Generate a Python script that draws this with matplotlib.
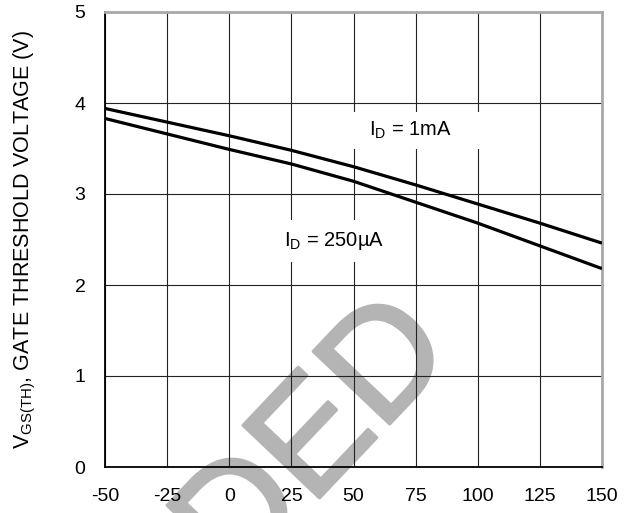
import matplotlib
matplotlib.use("Agg")
import matplotlib.pyplot as plt
import matplotlib.patheffects as pe

plt.rcParams['font.family'] = ['Liberation Sans', 'DejaVu Sans']
plt.rcParams['mathtext.fontset'] = 'custom'
plt.rcParams['mathtext.rm'] = 'Liberation Sans'
plt.rcParams['mathtext.default'] = 'regular'
plt.rcParams['axes.unicode_minus'] = False

# Data
temps = [-50, -25, 0, 25, 50, 75, 100, 125, 150]
vth_1mA = [3.94, 3.79, 3.64, 3.48, 3.30, 3.10, 2.89, 2.68, 2.46]
vth_250uA = [3.83, 3.66, 3.49, 3.33, 3.14, 2.91, 2.68, 2.43, 2.18]
x_ticks = [-50, -25, 0, 25, 50, 75, 100, 125, 150]
y_ticks = [0, 1, 2, 3, 4, 5]
label_1mA = r'I$_{D}$ = 1mA'
label_250uA = r'I$_{D}$ = 250µA'
ylabel = r'V$_{GS(TH)}$, GATE THRESHOLD VOLTAGE (V)'
watermark = 'DED'

fig = plt.figure(figsize=(6.35, 5.13), dpi=100)
ax = fig.add_axes([105/635, 1-467/513, (602-105)/635, (467-12)/513])

ax.plot(temps, vth_1mA, color='black', lw=2.3, solid_capstyle='butt', zorder=3)
ax.plot(temps, vth_250uA, color='black', lw=2.3, solid_capstyle='butt', zorder=3)

ax.set_xlim(-50, 150)
ax.set_ylim(0, 5)
ax.set_xticks(x_ticks)
ax.set_yticks(y_ticks)
ax.tick_params(length=0, labelsize=14)
ax.tick_params(axis='x', pad=15)
ax.tick_params(axis='y', pad=14)
ax.grid(True, color='#222222', lw=0.8)

for s in ['left', 'bottom']:
    ax.spines[s].set_color('black')
    ax.spines[s].set_linewidth(1.3)
for s in ['top', 'right']:
    ax.spines[s].set_color('#a8a8a8')
    ax.spines[s].set_linewidth(2.0)

ax.set_ylabel(ylabel, fontsize=15.5)
ax.yaxis.set_label_coords(-0.135, 0.5)

ax.text(73, 3.70, label_1mA, fontsize=14.5, ha='center', va='center', zorder=4,
        bbox=dict(boxstyle='square,pad=1.5', facecolor='white', edgecolor='none',
                  mutation_aspect=0.25))
ax.text(42, 2.48, label_250uA, fontsize=14.5, ha='center', va='center', zorder=4,
        bbox=dict(boxstyle='square,pad=0.9', facecolor='white', edgecolor='none',
                  mutation_aspect=0.55))

ax.text(306/635, 1-432/513, watermark, transform=fig.transFigure, fontsize=110,
        color='#b4b4b4', rotation=46.5, rotation_mode='anchor', ha='center',
        va='center_baseline', clip_on=False, zorder=0.5,
        path_effects=[pe.withStroke(linewidth=2.5, foreground='#b4b4b4')])

fig.savefig('out.png', dpi=100)
